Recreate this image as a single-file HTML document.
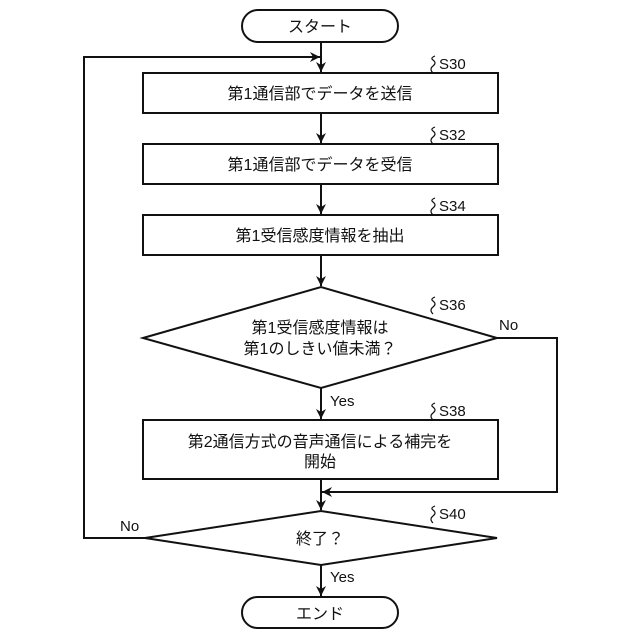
<!DOCTYPE html>
<html><head><meta charset="utf-8"><style>
html,body{margin:0;padding:0;background:#fff;}
svg{display:block;}
text{font-family:"Liberation Sans","Noto Sans CJK JP",sans-serif;fill:#111;}
</style></head><body>
<svg width="640" height="640" viewBox="0 0 640 640" xmlns="http://www.w3.org/2000/svg">
<defs><marker id="a" markerWidth="12" markerHeight="12" refX="10" refY="5" orient="auto" markerUnits="userSpaceOnUse"><path d="M0,0 L10,5 L0,10 L3,5 Z" fill="#111"/></marker></defs>
<g stroke="#111" stroke-width="2" fill="none">
<rect x="242" y="10" width="156" height="32" rx="16"/>
<rect x="143" y="73" width="355" height="40"/>
<rect x="143" y="144" width="355" height="40"/>
<rect x="143" y="215" width="355" height="40"/>
<polygon points="143,338 321,287 497,338 321,388"/>
<rect x="143" y="420" width="355" height="59"/>
<polygon points="145,538 321,511 497,538 321,565"/>
<rect x="242" y="597" width="156" height="31" rx="15.5"/>
<line x1="321" y1="42" x2="321" y2="72" marker-end="url(#a)"/>
<line x1="321" y1="113" x2="321" y2="143" marker-end="url(#a)"/>
<line x1="321" y1="184" x2="321" y2="214" marker-end="url(#a)"/>
<line x1="321" y1="255" x2="321" y2="286" marker-end="url(#a)"/>
<line x1="321" y1="388" x2="321" y2="419" marker-end="url(#a)"/>
<line x1="321" y1="479" x2="321" y2="510" marker-end="url(#a)"/>
<line x1="321" y1="565" x2="321" y2="596" marker-end="url(#a)"/>
<polyline points="497,338 557,338 557,492 322,492" marker-end="url(#a)"/>
<polyline points="145,538 84,538 84,57 320,57" marker-end="url(#a)"/>
<g stroke-width="1.2">
<path d="M433,73 q-4,-4 0,-7 q4,-3 0,-6 q-3,-2 2,-4"/>
<path d="M433,144 q-4,-4 0,-7 q4,-3 0,-6 q-3,-2 2,-4"/>
<path d="M433,215 q-4,-4 0,-7 q4,-3 0,-6 q-3,-2 2,-4"/>
<path d="M433,314 q-4,-4 0,-7 q4,-3 0,-6 q-3,-2 2,-4"/>
<path d="M433,420 q-4,-4 0,-7 q4,-3 0,-6 q-3,-2 2,-4"/>
<path d="M433,523 q-4,-4 0,-7 q4,-3 0,-6 q-3,-2 2,-4"/>
</g>
</g>
<g font-size="16" text-anchor="middle">
<text x="320" y="32">スタート</text>
<text x="320" y="99">第1通信部でデータを送信</text>
<text x="320" y="170">第1通信部でデータを受信</text>
<text x="320" y="241">第1受信感度情報を抽出</text>
<text x="320" y="333">第1受信感度情報は</text>
<text x="320" y="354">第1のしきい値未満？</text>
<text x="320" y="447">第2通信方式の音声通信による補完を</text>
<text x="320" y="467">開始</text>
<text x="320" y="544">終了？</text>
<text x="320" y="619">エンド</text>
</g>
<g font-size="15">
<text x="439" y="69">S30</text>
<text x="439" y="140">S32</text>
<text x="439" y="211">S34</text>
<text x="439" y="310">S36</text>
<text x="439" y="416">S38</text>
<text x="439" y="519">S40</text>
<text x="499" y="330">No</text>
<text x="120" y="531">No</text>
<text x="330" y="406">Yes</text>
<text x="330" y="582">Yes</text>
</g>
</svg>
</body></html>
